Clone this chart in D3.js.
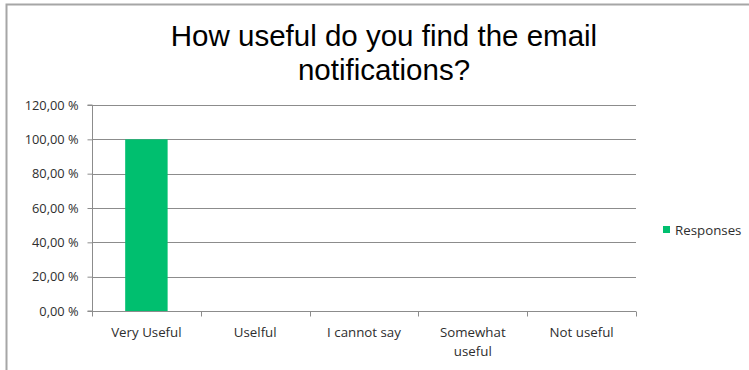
<!DOCTYPE html>
<html>
<head>
<meta charset="utf-8">
<script src="https://d3js.org/d3.v7.min.js"></script>
<style>
  html, body { margin: 0; padding: 0; background: #fff; }
  svg { display: block; }
</style>
</head>
<body>
<div id="chart"></div>
<script>
// data
const categories = ['Very Useful', 'Uselful', 'I cannot say', 'Somewhat useful', 'Not useful'];
const responses = [100, 0, 0, 0, 0];
const yTicks = [0, 20, 40, 60, 80, 100, 120];
const seriesName = 'Responses';
const titleLines = ['How useful do you find the email', 'notifications?'];

const width = 749, height = 370;
const margin = { top: 105, right: 113, bottom: 59, left: 92 };
const innerW = width - margin.left - margin.right;
const innerH = height - margin.top - margin.bottom;
const barColor = '#00BF6F';
const labelFont = '"Open Sans", Lato, sans-serif';
const textColor = '#2e2e2e';

const svg = d3.select('#chart').append('svg')
    .attr('width', width)
    .attr('height', height);

// outer frame (top + left edge)
svg.append('path')
    .attr('d', `M6.5,${height} V4.5 H${width}`)
    .attr('fill', 'none')
    .attr('stroke', '#a6a6a6')
    .attr('stroke-width', 2);

// title
svg.append('text')
    .attr('x', 384)
    .attr('y', 46)
    .attr('text-anchor', 'middle')
    .style('font-family', '"Liberation Sans", Arial, sans-serif')
    .style('font-size', '29.5px')
    .attr('fill', '#000')
    .selectAll('tspan')
    .data(titleLines)
    .enter()
    .append('tspan')
    .attr('x', 384)
    .attr('dy', (d, i) => i === 0 ? 0 : 34)
    .text(d => d);

const g = svg.append('g').attr('transform', `translate(${margin.left},${margin.top})`);

const x = d3.scaleBand().domain(categories).range([0, innerW]).paddingInner(0).paddingOuter(0);
const y = d3.scaleLinear().domain([0, 120]).range([innerH, 0]);

// gridlines
g.append('g')
    .selectAll('line')
    .data(yTicks.filter(d => d > 0))
    .enter()
    .append('line')
    .attr('x1', 0)
    .attr('x2', innerW)
    .attr('y1', d => Math.round(y(d)) + 0.5)
    .attr('y2', d => Math.round(y(d)) + 0.5)
    .attr('stroke', '#8c8c8c')
    .attr('stroke-width', 1);

// bars
const barW = x.bandwidth() * 0.39;
g.selectAll('.bar')
    .data(categories.map((c, i) => ({ cat: c, val: responses[i] })))
    .enter()
    .append('rect')
    .attr('x', d => x(d.cat) + (x.bandwidth() - barW) / 2)
    .attr('y', d => y(d.val))
    .attr('width', barW)
    .attr('height', d => innerH - y(d.val))
    .attr('fill', barColor);

// y axis
const yAxis = g.append('g')
    .attr('transform', 'translate(0.5,0)')
    .call(d3.axisLeft(y).tickValues(yTicks).tickSize(5).tickPadding(9)
        .tickFormat(d => d3.format('.2f')(d).replace('.', ',') + ' %'));
yAxis.select('.domain').attr('stroke', '#8c8c8c').attr('d', `M-5,${innerH}H0V0H-5`);
yAxis.selectAll('.tick line').attr('stroke', '#8c8c8c');
yAxis.selectAll('.tick text')
    .attr('fill', textColor)
    .style('font-family', labelFont)
    .style('font-size', '12.8px');

// x axis
const xAxis = g.append('g')
    .attr('transform', `translate(0,${Math.round(innerH) + 0.5})`)
    .call(d3.axisBottom(x).tickSize(0).tickPadding(16));
xAxis.select('.domain').attr('stroke', '#8c8c8c').attr('d', `M0,0H${innerW}`);
// tick marks at category boundaries
xAxis.selectAll('.bound')
    .data(d3.range(categories.length + 1))
    .enter()
    .append('line')
    .attr('x1', i => Math.round(i * x.step()) + 0.5)
    .attr('x2', i => Math.round(i * x.step()) + 0.5)
    .attr('y1', 0)
    .attr('y2', 5)
    .attr('stroke', '#8c8c8c');
xAxis.selectAll('.tick text')
    .attr('fill', textColor)
    .style('font-family', labelFont)
    .style('font-size', '13.3px')
    .each(function (d) {
        const el = d3.select(this);
        const words = d === 'Somewhat useful' ? ['Somewhat', 'useful'] : [d];
        el.text(null);
        words.forEach((w, i) => {
            el.append('tspan').attr('x', 0).attr('dy', i === 0 ? '0.71em' : '1.45em').text(w);
        });
    });

// legend
const legend = svg.append('g').attr('transform', 'translate(663,226)');
legend.append('rect').attr('width', 7).attr('height', 7).attr('fill', barColor);
legend.append('text')
    .attr('x', 12)
    .attr('y', 4)
    .attr('dy', '0.35em')
    .attr('fill', textColor)
    .style('font-family', labelFont)
    .style('font-size', '13.3px')
    .text(seriesName);
</script>
</body>
</html>
